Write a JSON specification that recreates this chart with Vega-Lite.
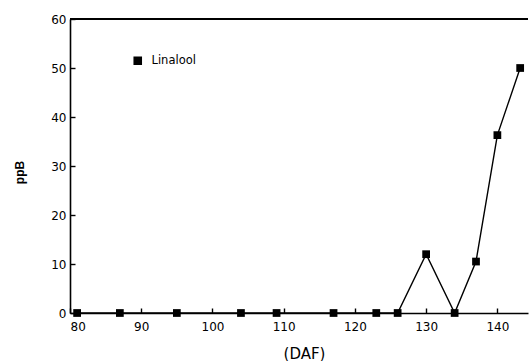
{
  "$schema": "https://vega.github.io/schema/vega-lite/v6.json",
  "autosize": "none",
  "padding": {"left": 70, "top": 19, "right": 4, "bottom": 48},
  "width": 458,
  "height": 294,
  "background": "white",
  "config": {
    "view": {"stroke": null},
    "font": "DejaVu Sans",
    "axis": {
      "domainColor": "black",
      "domainWidth": 1.6,
      "tickColor": "black",
      "tickWidth": 1.4,
      "grid": false,
      "labelColor": "black",
      "titleColor": "black",
      "labelFont": "DejaVu Sans",
      "titleFont": "DejaVu Sans",
      "labelFontSize": 12,
      "titleFontSize": 15
    }
  },
  "data": {
    "values": [
      {"daf": 81, "ppb": 0, "series": "Linalool"},
      {"daf": 87, "ppb": 0, "series": "Linalool"},
      {"daf": 95, "ppb": 0, "series": "Linalool"},
      {"daf": 104, "ppb": 0, "series": "Linalool"},
      {"daf": 109, "ppb": 0, "series": "Linalool"},
      {"daf": 117, "ppb": 0, "series": "Linalool"},
      {"daf": 123, "ppb": 0, "series": "Linalool"},
      {"daf": 126, "ppb": 0, "series": "Linalool"},
      {"daf": 130, "ppb": 12, "series": "Linalool"},
      {"daf": 134, "ppb": 0, "series": "Linalool"},
      {"daf": 137, "ppb": 10.5, "series": "Linalool"},
      {"daf": 140, "ppb": 36.3, "series": "Linalool"},
      {"daf": 143.2, "ppb": 50, "series": "Linalool"}
    ]
  },
  "layer": [
    {
      "mark": {"type": "rule", "color": "black", "strokeWidth": 1.6},
      "encoding": {"y": {"datum": 60, "type": "quantitative", "scale": {"domain": [0, 60]}}}
    },
    {
      "mark": {"type": "line", "color": "black", "strokeWidth": 1.4},
      "encoding": {
        "x": {"field": "daf", "type": "quantitative"},
        "y": {"field": "ppb", "type": "quantitative"}
      }
    },
    {
      "mark": {"type": "point", "shape": "square", "filled": true, "size": 60, "opacity": 1},
      "encoding": {
        "x": {
          "field": "daf",
          "type": "quantitative",
          "scale": {"domain": [80, 144.3], "nice": false, "zero": false},
          "axis": {
            "values": [80, 90, 100, 110, 120, 130, 140],
            "tickSize": -5,
            "labelPadding": 13,
            "title": "(DAF)",
            "titleX": 234,
            "titleY": 40,
            "titleBaseline": "middle",
            "titleAlign": "center",
            "titleFontWeight": "normal"
          }
        },
        "y": {
          "field": "ppb",
          "type": "quantitative",
          "scale": {"domain": [0, 60], "nice": false},
          "axis": {
            "values": [0, 10, 20, 30, 40, 50, 60],
            "tickSize": -5,
            "labelPadding": 9,
            "title": "ppB",
            "titleFont": "Liberation Sans",
            "titleFontSize": 12,
            "titleX": -51,
            "titleY": 153,
            "titleAngle": 270,
            "titleAlign": "center",
            "titleBaseline": "middle",
            "titleFontWeight": "bold"
          }
        },
        "color": {
          "field": "series",
          "type": "nominal",
          "scale": {"range": ["black"]},
          "legend": {
            "title": null,
            "orient": "none",
            "legendX": 62,
            "legendY": 36,
            "symbolType": "square",
            "symbolSize": 50,
            "symbolFillColor": "black",
            "symbolStrokeColor": "black",
            "labelOffset": 8,
            "labelFontSize": 11.5,
            "labelColor": "black",
            "labelFont": "DejaVu Sans"
          }
        }
      }
    }
  ]
}
